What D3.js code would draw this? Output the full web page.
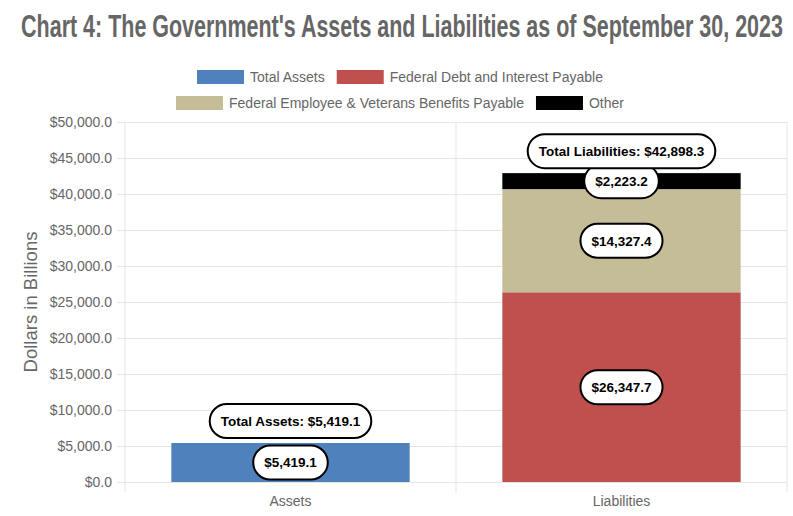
<!DOCTYPE html>
<html>
<head>
<meta charset="utf-8">
<script src="https://cdn.jsdelivr.net/npm/d3@7"></script>
<style>
  body { margin: 0; background: #fff; }
  svg { display: block; }
  text { font-family: "Liberation Sans", Arial, Helvetica, sans-serif; }
</style>
</head>
<body>
<div id="chart"></div>
<script>
// data (billions of dollars)
var categories = ["Assets", "Liabilities"];
var seriesNames = ["Total Assets", "Federal Debt and Interest Payable", "Federal Employee & Veterans Benefits Payable", "Other"];
var totalAssets = [5419.1, 0];
var federalDebt = [0, 26347.7];
var employeeBenefits = [0, 14327.4];
var otherLiabilities = [0, 2223.2];
var totalPrefixes = ["Total Assets", "Total Liabilities"];
var yTicks = [0, 5000, 10000, 15000, 20000, 25000, 30000, 35000, 40000, 45000, 50000];
var colours = ["#4f81bd", "#c0504d", "#c4bd97", "#000000"];

(function() {
	var width = 793;
	var height = 516;
	var plotLeft = 125, plotRight = 787, plotTop = 122, plotBottom = 482;

	var svg = d3.select("#chart")
	            .append("svg")
	            .attr("width", width)
	            .attr("height", height);

	var money = function(v) { return "$" + d3.format(",.1f")(v); };

	// rows for the stack
	var series = [totalAssets, federalDebt, employeeBenefits, otherLiabilities];
	var rows = categories.map(function(c, i) {
		var r = { cat: c };
		seriesNames.forEach(function(n, k) { r[n] = series[k][i]; });
		return r;
	});
	var stacked = d3.stack().keys(seriesNames)(rows);

	var x = d3.scaleBand().domain(categories).range([plotLeft, plotRight]);
	var y = d3.scaleLinear().domain([0, 50000]).range([plotBottom, plotTop]);
	var barWidth = x.bandwidth() * 0.72;

	// title, squeezed horizontally to look like a condensed face
	var title = svg.append("text")
	   .attr("text-anchor", "middle")
	   .style("font-weight", "bold")
	   .style("font-size", "31px")
	   .style("fill", "#666")
	   .text("Chart 4: The Government's Assets and Liabilities as of September 30, 2023");
	var squeeze = Math.min(1, 762 / title.node().getComputedTextLength());
	title.attr("transform", "translate(402,37) scale(" + squeeze + ",1)");

	// y axis with gridlines, drawn from the right edge so ticks poke out on the left
	var yAxis = svg.append("g")
	   .attr("transform", "translate(" + plotRight + ",0)")
	   .call(d3.axisLeft(y).tickValues(yTicks).tickSize(plotRight - plotLeft + 8).tickPadding(5).tickFormat(money));
	yAxis.select(".domain").remove();
	yAxis.selectAll("line").attr("stroke", "#e5e5e5");
	yAxis.selectAll("text").style("font-size", "14px").style("fill", "#666");

	// vertical gridlines at category boundaries
	var bounds = categories.map(function(c) { return x(c); }).concat([plotRight]);
	svg.append("g").selectAll("line")
	   .data(bounds)
	   .enter().append("line")
	   .attr("x1", function(d) { return d; })
	   .attr("x2", function(d) { return d; })
	   .attr("y1", plotTop)
	   .attr("y2", plotBottom + 10)
	   .attr("stroke", "#e5e5e5");

	// x axis labels
	var xAxis = svg.append("g")
	   .attr("transform", "translate(0," + plotBottom + ")")
	   .call(d3.axisBottom(x).tickSize(0).tickPadding(14));
	xAxis.select(".domain").remove();
	xAxis.selectAll("text").style("font-size", "14px").style("fill", "#666");

	// y axis title
	svg.append("text")
	   .attr("transform", "translate(37," + ((plotTop + plotBottom) / 2) + ") rotate(-90)")
	   .attr("text-anchor", "middle")
	   .style("font-size", "18.5px")
	   .style("fill", "#666")
	   .text("Dollars in Billions");

	// bars
	stacked.forEach(function(layer, k) {
		svg.append("g")
		   .selectAll("rect")
		   .data(layer.filter(function(d) { return d[1] > d[0]; }))
		   .enter().append("rect")
		   .attr("x", function(d) { return x(d.data.cat) + (x.bandwidth() - barWidth) / 2; })
		   .attr("y", function(d) { return y(d[1]); })
		   .attr("width", barWidth)
		   .attr("height", function(d) { return y(d[0]) - y(d[1]); })
		   .style("fill", colours[k]);
	});

	// pill shaped labels
	function pill(cx, cy, label) {
		var g = svg.append("g");
		var rect = g.append("rect");
		var t = g.append("text")
		   .attr("x", cx)
		   .attr("y", cy + 5)
		   .attr("text-anchor", "middle")
		   .style("font-size", "13.5px")
		   .style("font-weight", "bold")
		   .style("fill", "#000")
		   .text(label);
		var w = t.node().getComputedTextLength() + 22;
		var h = 34;
		rect.attr("x", cx - w / 2)
		    .attr("y", cy - h / 2)
		    .attr("width", w)
		    .attr("height", h)
		    .attr("rx", h / 2)
		    .style("fill", "#fff")
		    .style("stroke", "#000")
		    .style("stroke-width", 2);
	}

	stacked.forEach(function(layer) {
		layer.forEach(function(d) {
			if (d[1] > d[0]) {
				pill(x(d.data.cat) + x.bandwidth() / 2, (y(d[0]) + y(d[1])) / 2, money(d[1] - d[0]));
			}
		});
	});

	categories.forEach(function(c, i) {
		var total = d3.sum(series, function(s) { return s[i]; });
		pill(x(c) + x.bandwidth() / 2, y(total) - 22, totalPrefixes[i] + ": " + money(total));
	});

	// legend, two centred rows
	var legendRows = [[0, 1], [2, 3]];
	var legendY = [77, 103];
	legendRows.forEach(function(row, r) {
		var g = svg.append("g");
		var pos = 0;
		row.forEach(function(k, j) {
			if (j > 0) pos += 12;
			g.append("rect")
			 .attr("x", pos)
			 .attr("y", legendY[r] - 7)
			 .attr("width", 47)
			 .attr("height", 14)
			 .style("fill", colours[k]);
			var t = g.append("text")
			 .attr("x", pos + 53)
			 .attr("y", legendY[r] + 5)
			 .style("font-size", "14px")
			 .style("fill", "#666")
			 .text(seriesNames[k]);
			pos += 53 + t.node().getComputedTextLength();
		});
		g.attr("transform", "translate(" + (400 - pos / 2) + ",0)");
	});
})();
</script>
</body>
</html>
